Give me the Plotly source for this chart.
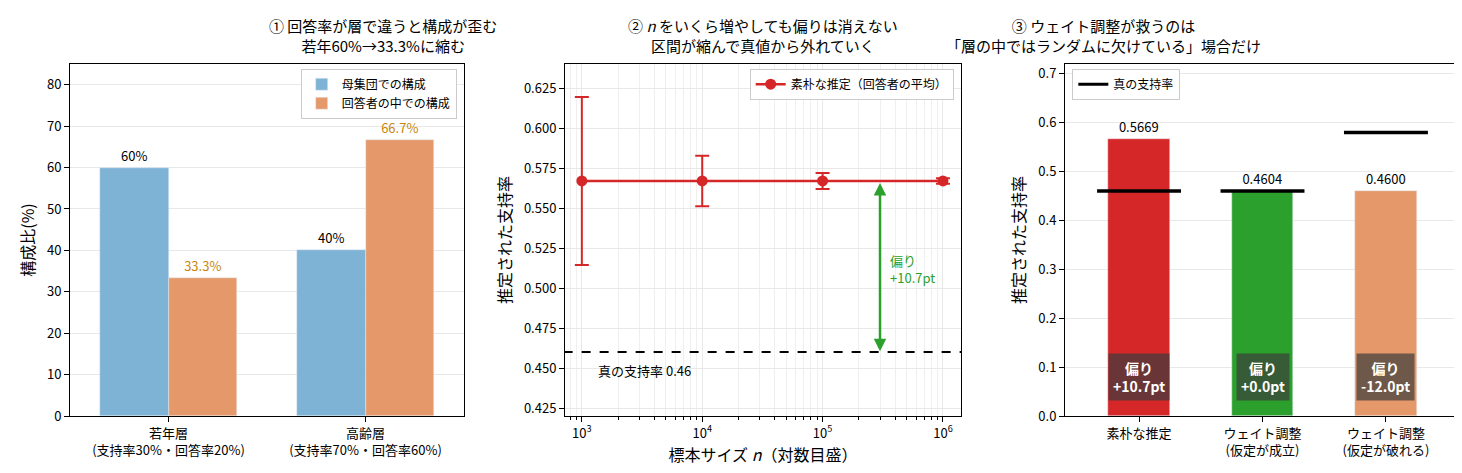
import math
import plotly.graph_objects as go

FONT = "Noto Sans CJK JP"
groups = ["若年層<br>(支持率30%・回答率20%)", "高齢層<br>(支持率70%・回答率60%)"]
pop_share = [60, 40]
resp_share = [33.3, 66.7]
pop_labels = ["60%", "40%"]
resp_labels = ["33.3%", "66.7%"]

n_sizes = [1e3, 1e4, 1e5, 1e6]
naive_est = [0.5669, 0.5669, 0.5669, 0.5669]
ci_half = [0.0525, 0.0158, 0.005, 0.0017]
true_rate = 0.46
arrow_n = 3e5

methods = ["素朴な推定", "ウェイト調整<br>(仮定が成立)", "ウェイト調整<br>(仮定が破れる)"]
estimates = [0.5669, 0.4604, 0.4600]
truths = [0.46, 0.46, 0.58]
bias_txt = ["偏り<br>+10.7pt", "偏り<br>+0.0pt", "偏り<br>-12.0pt"]
bar_colors = ["#d62728", "#2ca02c", "#e5996a"]

fig = go.Figure()
xo = [-0.175, 0.175]
fig.add_bar(x=[i + xo[0] for i in range(2)], y=pop_share, width=0.35, marker_color="#7fb3d5",
            name="母集団での構成", text=pop_labels, textposition="outside",
            textfont=dict(color="black", size=13), xaxis="x", yaxis="y", legend="legend", cliponaxis=False)
fig.add_bar(x=[i + xo[1] for i in range(2)], y=resp_share, width=0.35, marker_color="#e5996a",
            name="回答者の中での構成", text=resp_labels, textposition="outside",
            textfont=dict(color="#c8860a", size=13), xaxis="x", yaxis="y", legend="legend", cliponaxis=False)

fig.add_scatter(x=n_sizes, y=naive_est, mode="lines+markers", name="素朴な推定（回答者の平均）",
                line=dict(color="#d62728", width=2.5), marker=dict(size=11, color="#d62728"),
                error_y=dict(type="data", array=ci_half, color="#d62728", thickness=2, width=7),
                xaxis="x2", yaxis="y2", legend="legend2")
fig.add_scatter(x=[5e2, 2e6], y=[true_rate, true_rate], mode="lines", showlegend=False,
                line=dict(color="black", width=2, dash="dash"), xaxis="x2", yaxis="y2")

fig.add_bar(x=list(range(3)), y=estimates, width=0.5, marker_color=bar_colors, showlegend=False,
            text=[f"{v:.4f}" for v in estimates], textposition="outside",
            textfont=dict(color="black", size=13), xaxis="x3", yaxis="y3", cliponaxis=False)
fig.add_scatter(x=[None], y=[None], mode="lines", name="真の支持率", line=dict(color="black", width=3),
                xaxis="x3", yaxis="y3", legend="legend3")
for i, t in enumerate(truths):
    fig.add_shape(type="line", x0=i - 0.34, x1=i + 0.34, y0=t, y1=t, xref="x3", yref="y3",
                  line=dict(color="black", width=3.5))
    fig.add_annotation(x=i, y=0.08, xref="x3", yref="y3", text=f"<b>{bias_txt[i]}</b>", showarrow=False,
                       font=dict(color="white", size=14), bgcolor="rgba(60,60,60,0.7)", borderpad=4)

lx = math.log10(arrow_n)
fig.add_annotation(x=lx, y=0.4605, ax=lx, ay=0.5665, xref="x2", yref="y2", axref="x2", ayref="y2",
                   showarrow=True, arrowhead=2, arrowside="end+start", arrowcolor="#2ca02c", arrowwidth=2.5, text="")
fig.add_annotation(x=lx + 0.07, y=0.512, xref="x2", yref="y2", text="偏り<br>+10.7pt", showarrow=False,
                   xanchor="left", align="left", font=dict(color="#2ca02c", size=13))
fig.add_annotation(x=3.12, y=0.4485, xref="x2", yref="y2", text="真の支持率 0.46", showarrow=False,
                   xanchor="left", font=dict(color="black", size=13))

top = 1 - 56 / 473
bot = 1 - 408 / 473
doms = [[62 / 1462, 456 / 1462], [557 / 1462, 953 / 1462], [1057 / 1462, 1452 / 1462]]
titles = ["① 回答率が層で違うと構成が歪む<br>若年60%→33.3%に縮む",
          "② <i>n</i> をいくら増やしても偏りは消えない<br>区間が縮んで真値から外れていく",
          "③ ウェイト調整が救うのは<br>「層の中ではランダムに欠けている」場合だけ"]
for d, t in zip(doms, titles):
    fig.add_annotation(x=(d[0] + d[1]) / 2, y=top + 0.012, xref="paper", yref="paper", yanchor="bottom",
                       text=t, showarrow=False, font=dict(size=15, color="black"))

ax = dict(showline=True, linecolor="black", mirror=True, ticks="outside", tickcolor="black", automargin=False,
          gridcolor="#e8e8e8", tickfont=dict(size=13, color="black"), zeroline=False)
fig.update_layout(
    width=1462, height=473, margin=dict(l=0, r=0, t=0, b=0), plot_bgcolor="white", paper_bgcolor="white",
    font=dict(family=FONT, color="black", size=13), bargap=0,
    xaxis=dict(ax, domain=doms[0], range=[-0.5, 1.5], tickvals=[0, 1], ticktext=groups, showgrid=False),
    yaxis=dict(ax, domain=[bot, top], range=[0, 85], dtick=10, title=dict(text="構成比(%)", standoff=8)),
    xaxis2=dict(ax, domain=doms[1], type="log", range=[2.86, 6.15], anchor="y2",
                tickvals=n_sizes, ticktext=["10<sup>3</sup>", "10<sup>4</sup>", "10<sup>5</sup>", "10<sup>6</sup>"],
                minor=dict(ticks="outside", ticklen=3, dtick="D1", showgrid=True, gridcolor="#efefef", tickcolor="black"),
                title=dict(text="標本サイズ <i>n</i>（対数目盛）", standoff=8)),
    yaxis2=dict(ax, domain=[bot, top], range=[0.42, 0.64], dtick=0.025, tickformat=".3f", anchor="x2",
                title=dict(text="推定された支持率", standoff=8)),
    xaxis3=dict(ax, domain=doms[2], range=[-0.6, 2.6], tickvals=[0, 1, 2], ticktext=methods, showgrid=False, anchor="y3"),
    yaxis3=dict(ax, domain=[bot, top], range=[0, 0.72], dtick=0.1, tickformat=".1f", anchor="x3",
                title=dict(text="推定された支持率", standoff=8)),
    legend=dict(x=doms[0][1] - 0.005, y=top - 0.01, xanchor="right", yanchor="top", bordercolor="#ccc",
                borderwidth=1, font=dict(size=12)),
    legend2=dict(x=doms[1][1] - 0.005, y=top - 0.01, xanchor="right", yanchor="top", bordercolor="#ccc",
                 borderwidth=1, font=dict(size=12)),
    legend3=dict(x=doms[2][0] + 0.005, y=top - 0.01, xanchor="left", yanchor="top", bordercolor="#ccc",
                 borderwidth=1, font=dict(size=12)),
)
fig.write_html("out.html")
